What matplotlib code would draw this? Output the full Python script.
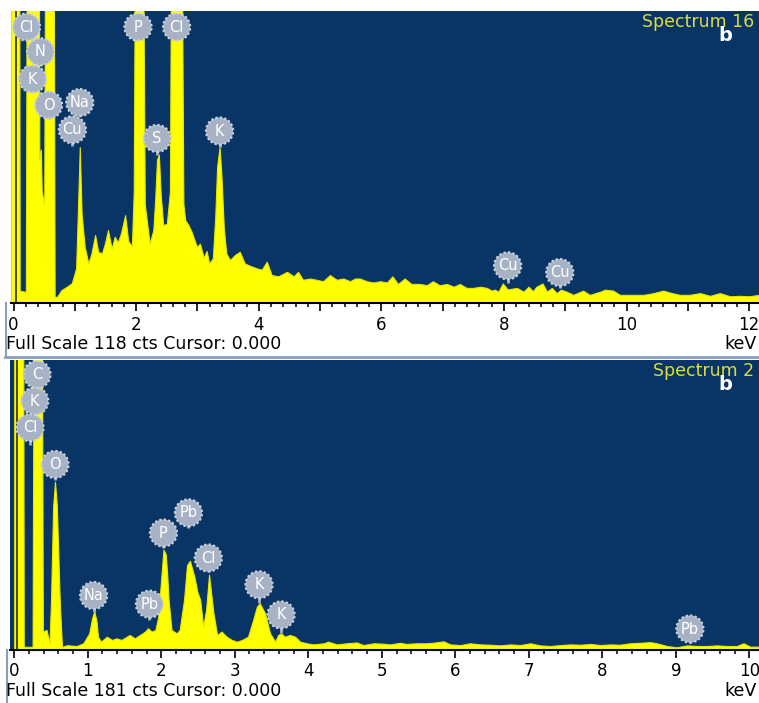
import matplotlib
matplotlib.use("Agg")
import matplotlib.pyplot as plt
from matplotlib.lines import Line2D

# ----------------------------------------------------------------------------------------
# Two EDS spectra (counts vs keV)
# ----------------------------------------------------------------------------------------

# Spectrum 16 (full scale 118 cts), off-scale peaks are given 200 so they get clipped
top_kev = [-0.042, 0.09, 0.10, 0.20, 0.22, 0.41, 0.42, 0.445, 0.46, 0.50, 0.52, 0.65, 0.67,
           0.71, 0.78, 0.87, 0.95, 1.02, 1.05, 1.08, 1.11, 1.16, 1.22, 1.27, 1.33, 1.38,
           1.44, 1.49, 1.54, 1.60, 1.65, 1.70, 1.75, 1.82, 1.87, 1.93, 1.96, 1.99, 2.10,
           2.14, 2.22, 2.28, 2.31, 2.34, 2.37, 2.40, 2.44, 2.50, 2.55, 2.58, 2.73, 2.77,
           2.80, 2.85, 2.90, 2.99, 3.04, 3.10, 3.15, 3.19, 3.25, 3.29, 3.32, 3.36, 3.39,
           3.43, 3.47, 3.53, 3.61, 3.69, 3.77, 3.86, 3.97, 4.05, 4.13, 4.21, 4.32, 4.46,
           4.57, 4.64, 4.72, 4.84, 4.94, 5.05, 5.16, 5.27, 5.38, 5.49, 5.57, 5.65, 5.76,
           5.87, 5.98, 6.09, 6.18, 6.27, 6.38, 6.49, 6.63, 6.74, 6.84, 6.95, 7.07, 7.18,
           7.28, 7.39, 7.50, 7.61, 7.72, 7.80, 7.85, 7.91, 7.98, 8.06, 8.21, 8.32, 8.40,
           8.47, 8.53, 8.63, 8.70, 8.78, 8.86, 8.93, 9.02, 9.13, 9.29, 9.40, 9.57, 9.65,
           9.78, 9.89, 10.06, 10.28, 10.44, 10.60, 10.74, 10.87, 11.03, 11.20, 11.36, 11.52,
           11.69, 11.85, 12.00, 12.16]
top_cts = [200, 200, 5, 4.5, 200, 200, 58, 62, 45, 40, 200, 200, 2.5,
           2.5, 5.2, 6.6, 8, 14, 38, 63, 36, 22.7, 16, 20, 27.5, 20.7,
           20, 24, 29.5, 22, 26.8, 24.5, 28, 35.5, 25, 23, 45, 200, 200,
           40, 24, 29.5, 42, 58, 60, 44, 31.5, 32, 45, 200, 200, 40,
           33.5, 31.6, 29, 22.7, 24, 18.4, 21, 16, 18, 35, 55, 63, 52,
           30, 20, 17.4, 19.4, 20.7, 16, 15, 14, 13.5, 16.7, 11.3, 10.8, 12.6,
           10.8, 12.6, 9.4, 9.9, 9.4, 8.8, 11.3, 9.4, 9.9, 8.8, 9.9, 9.9, 8.8,
           8.3, 8.8, 8.3, 10.8, 7.7, 9.9, 7.7, 7.7, 7.2, 8.8, 7.2, 7.7, 6.6,
           7.7, 6.1, 6.1, 6.6, 6.1, 5.0, 5.4, 4.6, 7.9, 5.5, 6.1, 4.6, 6.6,
           4.8, 6.6, 7.9, 4.6, 6.1, 4.0, 5.4, 4.6, 3.3, 5.0, 3.3, 4.6, 5.4,
           5.0, 3.3, 3.3, 3.3, 4.0, 5.0, 4.0, 3.3, 3.3, 4.0, 2.9, 4.0,
           2.7, 2.9, 2.7, 3.3]

# Spectrum 2 (full scale 181 cts)
bot_kev = [0.0, 0.12, 0.13, 0.25, 0.27, 0.37, 0.39, 0.44, 0.48, 0.50, 0.53, 0.555, 0.58,
           0.62, 0.65, 0.72, 0.85, 0.94, 1.02, 1.06, 1.09, 1.12, 1.14, 1.18, 1.26, 1.33,
           1.39, 1.46, 1.53, 1.57, 1.64, 1.71, 1.78, 1.82, 1.87, 1.92, 1.96, 2.00, 2.03,
           2.06, 2.08, 2.10, 2.14, 2.21, 2.25, 2.31, 2.35, 2.39, 2.45, 2.49, 2.53, 2.57,
           2.61, 2.65, 2.71, 2.76, 2.82, 2.89, 2.96, 3.03, 3.10, 3.18, 3.25, 3.30, 3.34,
           3.41, 3.48, 3.55, 3.59, 3.63, 3.68, 3.75, 3.82, 3.89, 3.98, 4.07, 4.21, 4.27,
           4.39, 4.52, 4.66, 4.75, 4.89, 5.00, 5.11, 5.25, 5.33, 5.47, 5.60, 5.69, 5.84,
           5.93, 6.07, 6.20, 6.34, 6.48, 6.61, 6.75, 6.88, 7.02, 7.15, 7.29, 7.43, 7.56,
           7.70, 7.84, 7.97, 8.11, 8.24, 8.38, 8.51, 8.65, 8.74, 8.88, 9.01, 9.15, 9.29,
           9.42, 9.56, 9.70, 9.83, 9.92, 10.01, 10.13]
bot_cts = [300, 300, 2, 2, 300, 300, 11.5, 12.5, 4, 30, 90, 105, 90,
           30, 2, 3, 2.5, 4.2, 10.4, 20, 24, 18, 8.3, 5.2, 8.3, 6.3,
           7.3, 6.3, 8.3, 9.4, 7.3, 9.4, 11.5, 13.6, 11.5, 12.5, 20.9, 45, 62.6,
           60, 48, 31.3, 12.5, 10.4, 12.5, 31.3, 53, 55.7, 45.9, 36.5, 31.3, 14.6,
           25, 47, 23, 9.4, 11.5, 8.3, 6.3, 5.2, 6.3, 8.3, 18.8, 27, 29.2,
           23, 10.4, 5.2, 9.4, 10.4, 8.3, 9.4, 8.3, 5.2, 4.2, 3.5, 4.2, 5.2,
           3.5, 4.2, 4.7, 3.1, 4.2, 4.0, 3.5, 4.5, 3.8, 4.2, 4.2, 4.5, 5.4,
           3.5, 3.1, 4.2, 3.5, 3.3, 2.9, 3.5, 3.1, 4.2, 2.9, 2.5, 3.1, 3.5,
           3.3, 3.8, 3.1, 3.5, 3.3, 4.2, 4.5, 4.9, 4.2, 2.5, 1.7, 2.9, 2.5,
           2.5, 2.9, 2.5, 2.5, 4.2, 2.1, 2.1]

# Element markers: name, keV, bubble height (cts), end of stem (cts)
top_lbl = ["Cl", "N", "K", "O", "Na", "Cu", "P", "Cl", "S", "K", "Cu", "Cu"]
top_lbl_kev = [0.21, 0.44, 0.31, 0.57, 1.08, 0.96, 2.03, 2.66, 2.34, 3.36, 8.06, 8.91]
top_lbl_y = [111.5, 101.5, 90.5, 80.0, 81.0, 70.0, 111.5, 111.5, 66.5, 69.5, 15.0, 12.3]
top_lbl_stem = [None, None, None, 74.5, 76.0, 63.5, None, None, 59.8, 63.0, 8.0, 6.0]

bot_lbl = ["O", "Cl", "K", "C", "Na", "Pb", "P", "Pb", "Cl", "K", "K", "Pb"]
bot_lbl_kev = [0.555, 0.215, 0.28, 0.31, 1.08, 1.84, 2.03, 2.37, 2.64, 3.33, 3.63, 9.19]
bot_lbl_y = [115.8, 138.8, 155.4, 172.0, 34.0, 28.6, 73.0, 85.6, 57.4, 40.7, 21.9, 13.1]
bot_lbl_stem = [106.4, 128.0, None, None, 24.0, 18.8, 63.7, 76.2, None, 29.4, 10.8, 4.2]

# ----------------------------------------------------------------------------------------

W, H = 759, 703
NAVY = "#083466"
YEL = "#ffff00"
BUB = "#a7b2c5"

plt.rcParams['font.family'] = ['DejaVu Sans']
fig = plt.figure(figsize=(W / 100, H / 100), dpi=100)
fig.patch.set_facecolor("white")


def px_axes(left, top, right, bottom):
    # axes placed by pixel edges of the reference
    return fig.add_axes([left / W, 1 - bottom / H, (right - left) / W, (bottom - top) / H])


def draw_panel(ax, kev, cts, xlim, ymax, label_every, names, lk, ly, ls, title):
    ax.set_facecolor(NAVY)
    ax.fill_between(kev, cts, 0, color=YEL, lw=0.8, edgecolor="#e6e600", zorder=2)
    # cursor line at 0 keV
    ax.axvline(0.035, color="#2a2a10", lw=1.2, zorder=3)
    ax.set_xlim(*xlim)
    ax.set_ylim(0, ymax)
    for s in ["top", "left", "right"]:
        ax.spines[s].set_visible(False)
    ax.spines["bottom"].set_color("black")
    ax.spines["bottom"].set_linewidth(1.5)
    ax.set_yticks([])
    majors = list(range(0, int(xlim[1]) + 1))
    ax.set_xticks(majors)
    ax.set_xticklabels([str(m) if m % label_every == 0 else "" for m in majors])
    ax.set_xticks([m / 5 for m in range(0, int(xlim[1] * 5) + 1)], minor=True)
    ax.tick_params(axis="x", which="major", direction="out", length=6, width=1.2,
                   labelsize=12, pad=3, color="black")
    ax.tick_params(axis="x", which="minor", direction="out", length=3, width=1.1,
                   color="black")

    # element bubbles with stems
    for n, x, y, st in zip(names, lk, ly, ls):
        if st is not None:
            ax.plot([x, x], [y, st], color=BUB, lw=2, zorder=4, solid_capstyle="butt")
        ax.scatter([x], [y], s=380, color=BUB, edgecolors="#c9d0dc", linewidths=1.6,
                   linestyles=(0, (1, 1)), zorder=5, clip_on=False)
        ax.text(x, y, n, color="white", fontsize=10.5, ha="center", va="center", zorder=6)

    ax.text(0.993, 0.962, title, transform=ax.transAxes, color="#dcdc3c", fontsize=12.5,
            ha="right", va="center", zorder=6)
    ax.text(0.955, 0.915, "b", transform=ax.transAxes, color="white", fontsize=14,
            fontweight="bold", ha="center", va="center", zorder=7)


ax1 = px_axes(11, 11, 759, 303)
draw_panel(ax1, top_kev, top_cts, (-0.042, 12.16), 118, 2,
           top_lbl, top_lbl_kev, top_lbl_y, top_lbl_stem, "Spectrum 16")

ax2 = px_axes(10, 360, 759, 650)
draw_panel(ax2, bot_kev, bot_cts, (-0.057, 10.13), 181, 1,
           bot_lbl, bot_lbl_kev, bot_lbl_y, bot_lbl_stem, "Spectrum 2")

# status lines under each panel
fig.text(6 / W, 1 - 344 / H, "Full Scale 118 cts Cursor: 0.000", fontsize=12.5,
         ha="left", va="center")
fig.text(757 / W, 1 - 344 / H, "keV", fontsize=12.5, ha="right", va="center")
fig.text(6 / W, 1 - 691 / H, "Full Scale 181 cts Cursor: 0.000", fontsize=12.5,
         ha="left", va="center")
fig.text(757 / W, 1 - 691 / H, "keV", fontsize=12.5, ha="right", va="center")

# thin window frame lines
frame = "#8a9cc0"
fig.add_artist(Line2D([5 / W, 1], [1 - 357 / H, 1 - 357 / H], color=frame, lw=2))
fig.add_artist(Line2D([6 / W, 6 / W], [1 - 303 / H, 1 - 356 / H], color=frame, lw=1.5))
fig.add_artist(Line2D([7 / W, 7 / W], [1 - 650 / H, 0], color=frame, lw=1.5))

fig.savefig("out.png", dpi=100, facecolor="white")
